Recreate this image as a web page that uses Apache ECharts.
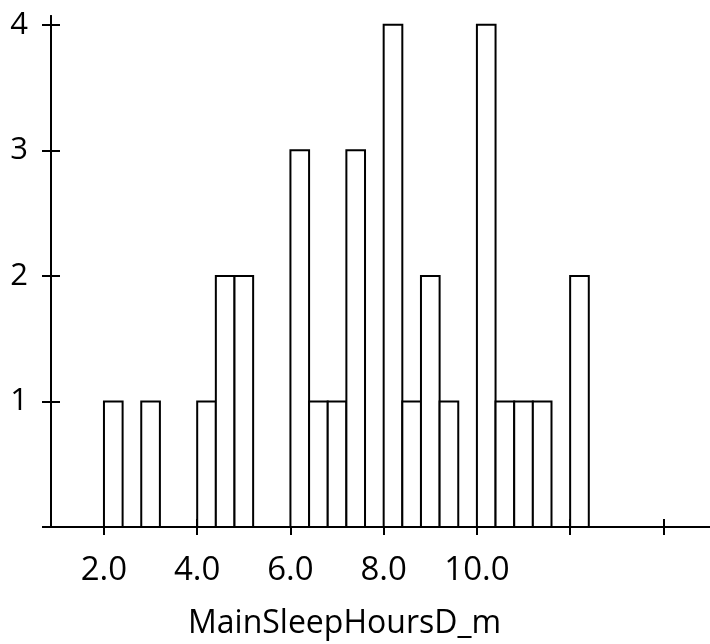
<!DOCTYPE html>
<html>
<head>
<meta charset="utf-8">
<script src="https://cdn.jsdelivr.net/npm/echarts@6/dist/echarts.min.js"></script>
<style>
  html, body { margin: 0; padding: 0; background: #fff; }
  #chart { width: 710px; height: 644px; }
</style>
</head>
<body>
<div id="chart"></div>
<script>
// histogram bins (width 0.4) and counts
const binWidth = 0.4
const binStarts = [2.0, 2.8, 4.0, 4.4, 4.8, 6.0, 6.4, 6.8, 7.2, 8.0, 8.4, 8.8, 9.2, 10.0, 10.4, 10.8, 11.2, 12.0]
const counts    = [1,   1,   1,   2,   2,   3,   1,   1,   3,   4,   1,   2,   1,   4,    1,    1,    1,    2]

const xTicks = [2, 4, 6, 8, 10, 12, 14]
const xLabels = [2, 4, 6, 8, 10]
const yTicks = [0, 1, 2, 3, 4]
const yLabels = [1, 2, 3, 4]
const xName = 'MainSleepHoursD_m'

const FONT = '"Open Sans", sans-serif'
const ink = '#000'

const chart = echarts.init(document.getElementById('chart'), null, { renderer: 'canvas' })

const xBase = {
  type: 'value',
  min: 0.864,
  max: 15,
  position: 'bottom',
  splitLine: { show: false },
  axisLine: { show: true, lineStyle: { color: ink, width: 2 } }
}
const yBase = {
  type: 'value',
  min: 0,
  max: 4.07,
  position: 'left',
  splitLine: { show: false },
  axisLine: { show: true, lineStyle: { color: ink, width: 2 } }
}

const option = {
  animation: false,
  backgroundColor: '#fff',
  title: {
    text: xName,
    left: 183,
    top: 603,
    textStyle: { fontFamily: FONT, fontSize: 32, fontWeight: 'normal', color: ink }
  },
  grid: { left: 51, right: 0, top: 16, bottom: 117, containLabel: false },
  xAxis: [
    {
      ...xBase,
      axisTick: { show: true, inside: false, length: 8, customValues: xTicks, lineStyle: { color: ink, width: 2 } },
      axisLabel: {
        show: true, customValues: xLabels, margin: 27,
        formatter: v => Number(v).toFixed(1),
        fontFamily: FONT, fontSize: 33, color: ink
      }
    },
    {
      ...xBase,
      axisTick: { show: true, inside: true, length: 8, customValues: xTicks, lineStyle: { color: ink, width: 2 } },
      axisLabel: { show: false }
    }
  ],
  yAxis: [
    {
      ...yBase,
      axisTick: { show: true, inside: false, length: 9, customValues: yTicks, lineStyle: { color: ink, width: 2 } },
      axisLabel: {
        show: true, customValues: yLabels, margin: 23,
        formatter: v => String(v),
        fontFamily: FONT, fontSize: 31, color: ink
      }
    },
    {
      ...yBase,
      axisTick: { show: true, inside: true, length: 9, customValues: yTicks, lineStyle: { color: ink, width: 2 } },
      axisLabel: { show: false }
    }
  ],
  series: [{
    type: 'custom',
    xAxisIndex: 0,
    yAxisIndex: 0,
    data: binStarts.map((s, i) => [s, s + binWidth, counts[i]]),
    encode: { x: [0, 1], y: 2 },
    renderItem: (params, api) => {
      const topLeft = api.coord([api.value(0), api.value(2)])
      const botRight = api.coord([api.value(1), 0])
      return {
        type: 'rect',
        shape: {
          x: topLeft[0],
          y: topLeft[1],
          width: botRight[0] - topLeft[0],
          height: botRight[1] - topLeft[1]
        },
        style: { fill: '#fff', stroke: ink, lineWidth: 2 }
      }
    }
  }]
}

chart.setOption(option)
</script>
</body>
</html>
